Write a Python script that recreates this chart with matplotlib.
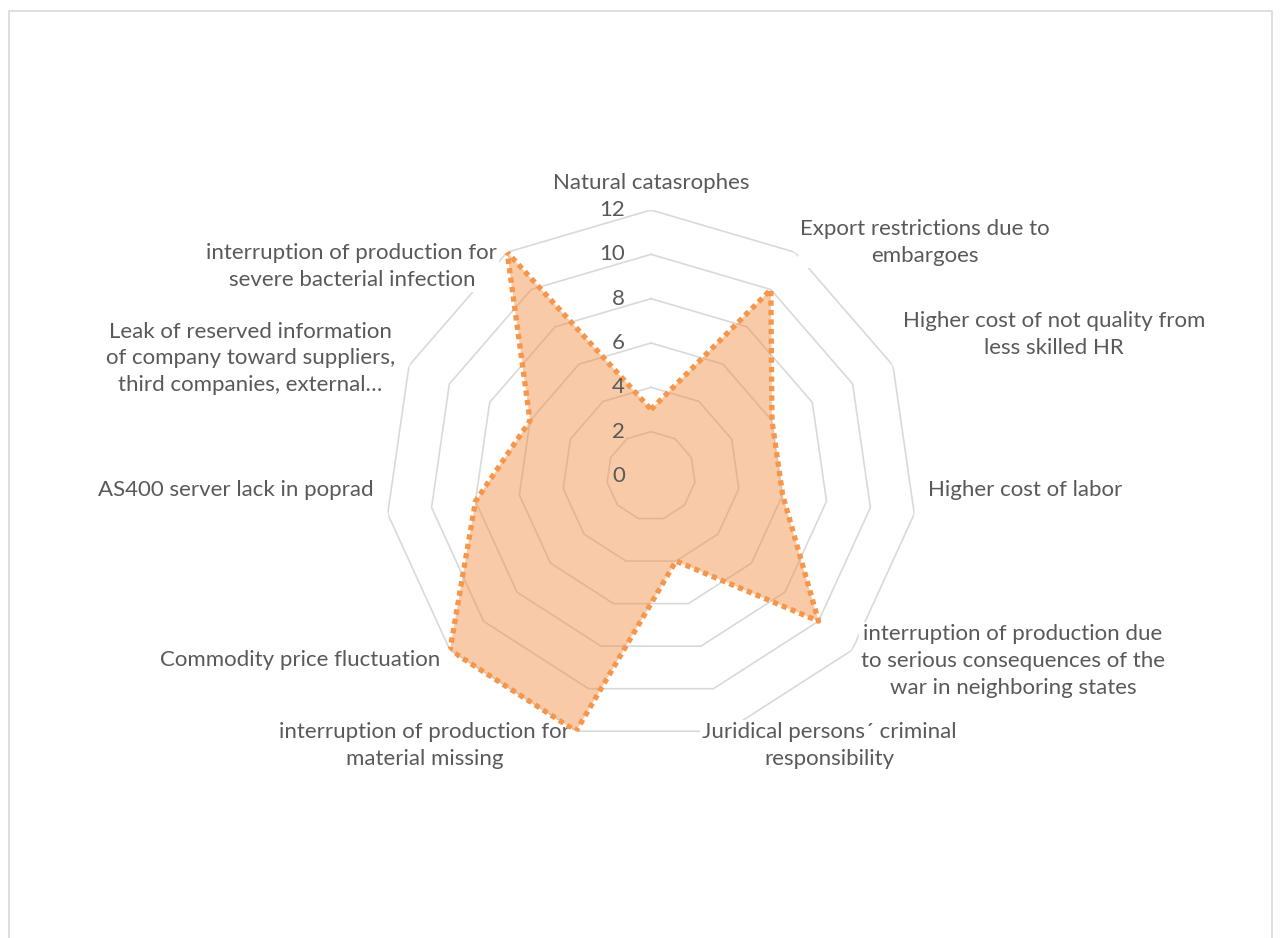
import numpy as np
import matplotlib.pyplot as plt
from matplotlib.patches import Rectangle

plt.rcParams['font.family'] = ['Lato', 'DejaVu Sans']

# categories, clockwise from the top
categories = [
    'Natural catasrophes',
    'Export restrictions due to\nembargoes',
    'Higher cost of not quality from\nless skilled HR',
    'Higher cost of labor',
    'interruption of production due\nto serious consequences of the\nwar in neighboring states',
    'Juridical persons\u00b4 criminal\nresponsibility',
    'interruption of production for\nmaterial missing',
    'Commodity price fluctuation',
    'AS400 server lack in poprad',
    'Leak of reserved information\nof company toward suppliers,\nthird companies, external\u2026',
    'interruption of production for\nsevere bacterial infection',
]
values = [3, 10, 6, 6, 10, 4, 12, 12, 8, 6, 12]
ticks = [0, 2, 4, 6, 8, 10, 12]

# label layout: offset in pixels from the outer vertex, horizontal alignment
label_pos = [
    ((0, 27), 'center'),
    ((5, 10), 'left'),
    ((10, 31), 'left'),
    ((14, 24), 'left'),
    ((9, -11), 'left'),
    ((-24, -14), 'left'),
    ((-6, -14), 'right'),
    ((-10, -10), 'right'),
    ((-14, 24), 'right'),
    ((-14, 7), 'right'),
    ((-10, -14), 'right'),
]

W, H = 1281, 938
fig = plt.figure(figsize=(W / 100, H / 100), dpi=100)
fig.patches.append(Rectangle((9 / W, -0.05), (1272 - 9) / W, 1.05 - 11 / H,
                             transform=fig.transFigure, fill=False,
                             edgecolor='#d9d9d9', linewidth=1.2))

cx, cy, R = 651, 476, 266
ax = fig.add_axes([(cx - R) / W, (H - cy - R) / H, 2 * R / W, 2 * R / H],
                  projection='polar')
ax.set_theta_offset(np.pi / 2)
ax.set_theta_direction(-1)
ax.set_ylim(0, 12)
ax.grid(False)
ax.spines['polar'].set_visible(False)
ax.set_xticks([])
ax.set_yticks([])
ax.patch.set_alpha(0)

n = len(categories)
theta = np.arange(n) * 2 * np.pi / n
theta_c = np.append(theta, theta[0])

# ring gridlines (polygons, like Excel)
for v in ticks[1:]:
    ax.plot(theta_c, [v] * (n + 1), color='#d9d9d9', lw=1.2, zorder=1)

vals_c = values + values[:1]
ax.fill(theta_c, vals_c, color='#F08A3E', alpha=0.45, lw=0, zorder=3)
ax.plot(theta_c, vals_c, color='#F5964A', lw=3.8, linestyle=(0, (1, 0.8)),
        dash_capstyle='butt', zorder=4)

txt = '#595959'
for v in ticks:
    ax.annotate(str(v), xy=(0, v), xytext=(-26, 0), textcoords='offset pixels',
                ha='right', va='center', fontsize=16, color=txt,
                annotation_clip=False, zorder=5)

for t, lab, (off, ha) in zip(theta, categories, label_pos):
    ax.annotate(lab, xy=(t, 12), xytext=off, textcoords='offset pixels',
                ha=ha, va='center', multialignment='center', fontsize=16,
                color=txt, linespacing=1.42, annotation_clip=False, zorder=2,
                bbox=dict(boxstyle='square,pad=0.1', fc='white', ec='none'))

fig.savefig('out.png', dpi=100)
